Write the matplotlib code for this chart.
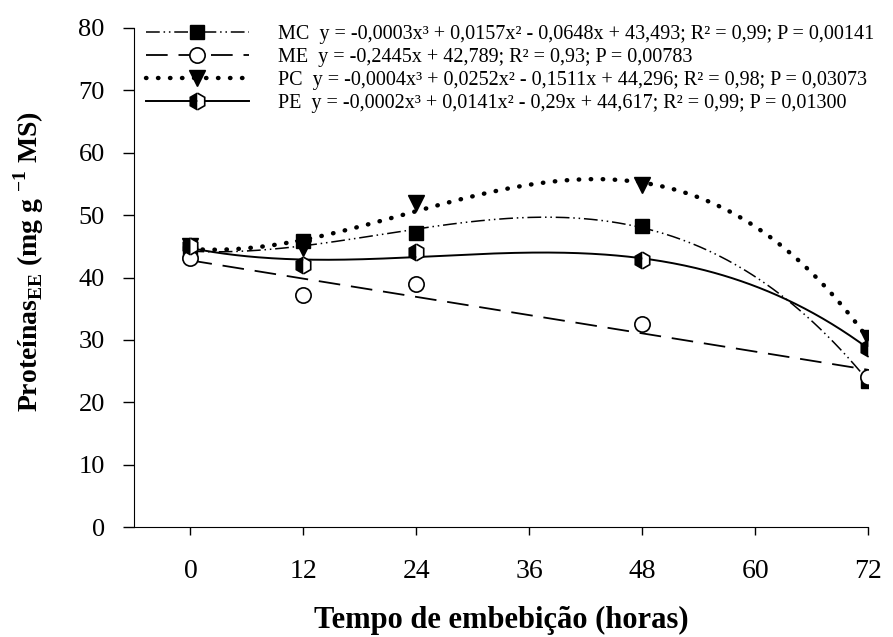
import numpy as np
import matplotlib
matplotlib.use("Agg")
import matplotlib.pyplot as plt

plt.rcParams['font.family'] = 'Liberation Serif'
plt.rcParams['mathtext.fontset'] = 'custom'
plt.rcParams['mathtext.rm'] = 'Liberation Serif'
plt.rcParams['mathtext.bf'] = 'Liberation Serif:bold'

# tempo de embebição (horas)
horas = [0, 12, 24, 48, 72]

mc = [44.0, 45.8, 47.1, 48.2, 23.4]
me = [43.1, 37.2, 38.9, 32.5, 24.0]
pc = [45.0, 44.7, 51.9, 54.8, 30.3]
pe = [45.0, 42.0, 44.1, 42.8, 28.7]

lbl_mc = 'MC  y = -0,0003x³ + 0,0157x² - 0,0648x + 43,493; R² = 0,99; P = 0,00141'
lbl_me = 'ME  y = -0,2445x + 42,789; R² = 0,93; P = 0,00783'
lbl_pc = 'PC  y = -0,0004x³ + 0,0252x² - 0,1511x + 44,296; R² = 0,98; P = 0,03073'
lbl_pe = 'PE  y = -0,0002x³ + 0,0141x² - 0,29x + 44,617; R² = 0,99; P = 0,01300'

fig = plt.figure(figsize=(8.93, 6.37), dpi=100)
ax = fig.add_axes([134 / 893, 1 - 527 / 637, 734 / 893, 499 / 637])

x = np.array(horas, dtype=float)
xs = np.linspace(0, 72, 300)

series = [
    (mc, 3, dict(ls=(0, (9, 2.5, 1, 2.5, 1, 2.5)), lw=1.1), dict(marker='s', mfc='k', mec='k', ms=10), lbl_mc),
    (me, 1, dict(ls=(0, (12, 6)), lw=1.3), dict(marker='o', mfc='white', mec='k', ms=11, mew=1.2), lbl_me),
    (pc, 3, dict(ls=(0, (0.1, 2.6)), lw=3.2, dash_capstyle='round'), dict(marker='v', mfc='k', mec='k', ms=12), lbl_pc),
    (pe, 3, dict(ls='-', lw=1.4), dict(marker='h', fillstyle='left', mfc='k', mfcalt='white', mec='k', ms=12, mew=1.2), lbl_pe),
]

handles = []
for vals, deg, lstyle, mstyle, lbl in series:
    y = np.array(vals)
    m = np.polyfit(x, y, deg)
    ax.plot(xs, np.polyval(m, xs), color='k', zorder=2, **lstyle)
    ax.plot(x, y, ls='none', zorder=3, **mstyle)
    h, = ax.plot([], [], color='k', label=lbl, **lstyle, **mstyle)
    handles.append(h)

ax.set_xlim(-6, 72)
ax.set_ylim(0, 80)
ax.set_xticks([0, 12, 24, 36, 48, 60, 72])
ax.set_yticks(range(0, 81, 10))
ax.spines['top'].set_visible(False)
ax.spines['right'].set_visible(False)
ax.tick_params(axis='y', direction='out', length=8, width=1, labelsize=19, pad=13)
ax.tick_params(axis='x', direction='out', length=6, width=1, labelsize=20, pad=17)

ax.set_xlabel('Tempo de embebição (horas)', fontsize=22, fontweight='bold', labelpad=16)
ax.set_ylabel(r'Proteínas$_{\mathbf{EE}}$ (mg g $^{\mathbf{-1}}$ MS)', fontsize=20, fontweight='bold')
ax.yaxis.set_label_coords(-(134 - 46) / 734, (527 - 262) / 499)

leg = ax.legend(handles=handles, loc='upper left', bbox_to_anchor=(146 / 893, 1 - 25 / 637),
                bbox_transform=fig.transFigure, frameon=False, fontsize=14.5, handlelength=5.1,
                handletextpad=1.45, labelspacing=0.2, borderaxespad=0, borderpad=0)

fig.savefig('out.png', dpi=100)
